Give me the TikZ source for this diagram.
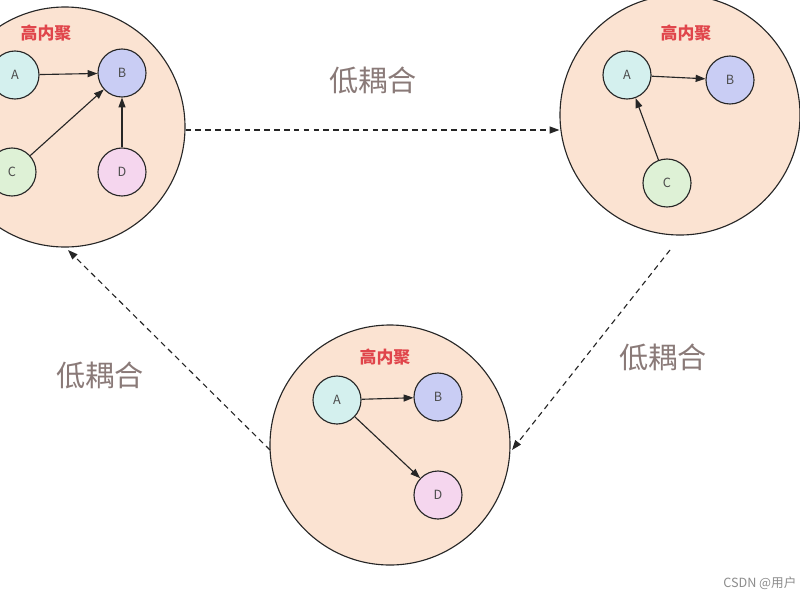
\documentclass[tikz,border=0pt]{standalone}
\usepackage{fontspec}
\newfontfamily\cjk{Noto Sans CJK SC}
\setsansfont{Noto Sans CJK SC}
\usetikzlibrary{arrows.meta}
\definecolor{groupfill}{HTML}{FBE3D2}
\definecolor{afill}{HTML}{D4F0EE}
\definecolor{bfill}{HTML}{C9CDF4}
\definecolor{cfill}{HTML}{DEF1D6}
\definecolor{dfill}{HTML}{F5D6EE}
\definecolor{labred}{HTML}{E0454B}
\definecolor{labgray}{HTML}{8A7A78}
\begin{document}
\begin{tikzpicture}[
        x=0.025cm, y=-0.025cm,
        thick,
        font=\sffamily
    ]
    \tikzset{
        group/.style = {circle, draw=black!85, fill=groupfill, minimum size=240*0.025cm, inner sep=0pt},
        mynode/.style = {circle, draw=black!85, minimum size=48*0.025cm, inner sep=0pt, font=\sffamily\small, text=black!70},
        title/.style = {font=\cjk\bfseries\large, text=labred},
        couple/.style = {font=\cjk\huge, text=labgray},
        edgen/.style = {-{Triangle[length=7pt,width=5pt]}, black!85},
        edged/.style = {-{Triangle[length=7pt,width=5pt]}, black!85, dash pattern=on 4pt off 3pt},
    }
    \useasboundingbox (0,0) rectangle (800,600);
    % groups
    \node[group] at (65,127) (g1) {};
    \node[group] at (680,115) (g2) {};
    \node[group] at (390,445) (g3) {};
    \node[title] at (46,33) (t1) {高内聚};
    \node[title] at (686,33) (t2) {高内聚};
    \node[title] at (385,357) (t3) {高内聚};
    %
    \node[mynode, fill=afill] at (15,75) (a1) {A};
    \node[mynode, fill=bfill] at (122,73) (b1) {B};
    \node[mynode, fill=cfill] at (12,172) (c1) {C};
    \node[mynode, fill=dfill] at (122,172) (d1) {D};
    \draw[edgen] (a1) -- (b1);
    \draw[edgen] (c1) -- (b1);
    \draw[edgen] (d1) -- (b1);
    %
    \node[mynode, fill=afill] at (627,75) (a2) {A};
    \node[mynode, fill=bfill] at (730,80) (b2) {B};
    \node[mynode, fill=cfill] at (667,183) (c2) {C};
    \draw[edgen] (a2) -- (b2);
    \draw[edgen] (c2) -- (a2);
    %
    \node[mynode, fill=afill] at (337,400) (a3) {A};
    \node[mynode, fill=bfill] at (438,397) (b3) {B};
    \node[mynode, fill=dfill] at (438,495) (d3) {D};
    \draw[edgen] (a3) -- (b3);
    \draw[edgen] (a3) -- (d3);
    %
    \coordinate (p1) at (670,250);
    \coordinate (q1) at (270,450);
    \draw[edged] (g1.east |- 0,130) -- (g2.west |- 0,130);
    \draw[edged] (p1) -- (512,450);
    \draw[edged] (q1) -- (68,250);
    \node[couple] at (373,80) (l1) {低耦合};
    \node[couple] at (663,357) (l2) {低耦合};
    \node[couple] at (100,375) (l3) {低耦合};
    \node[font=\cjk\small, text=black!45, anchor=west] at (718,583) (wm) {CSDN @用户};
\end{tikzpicture}
\end{document}
